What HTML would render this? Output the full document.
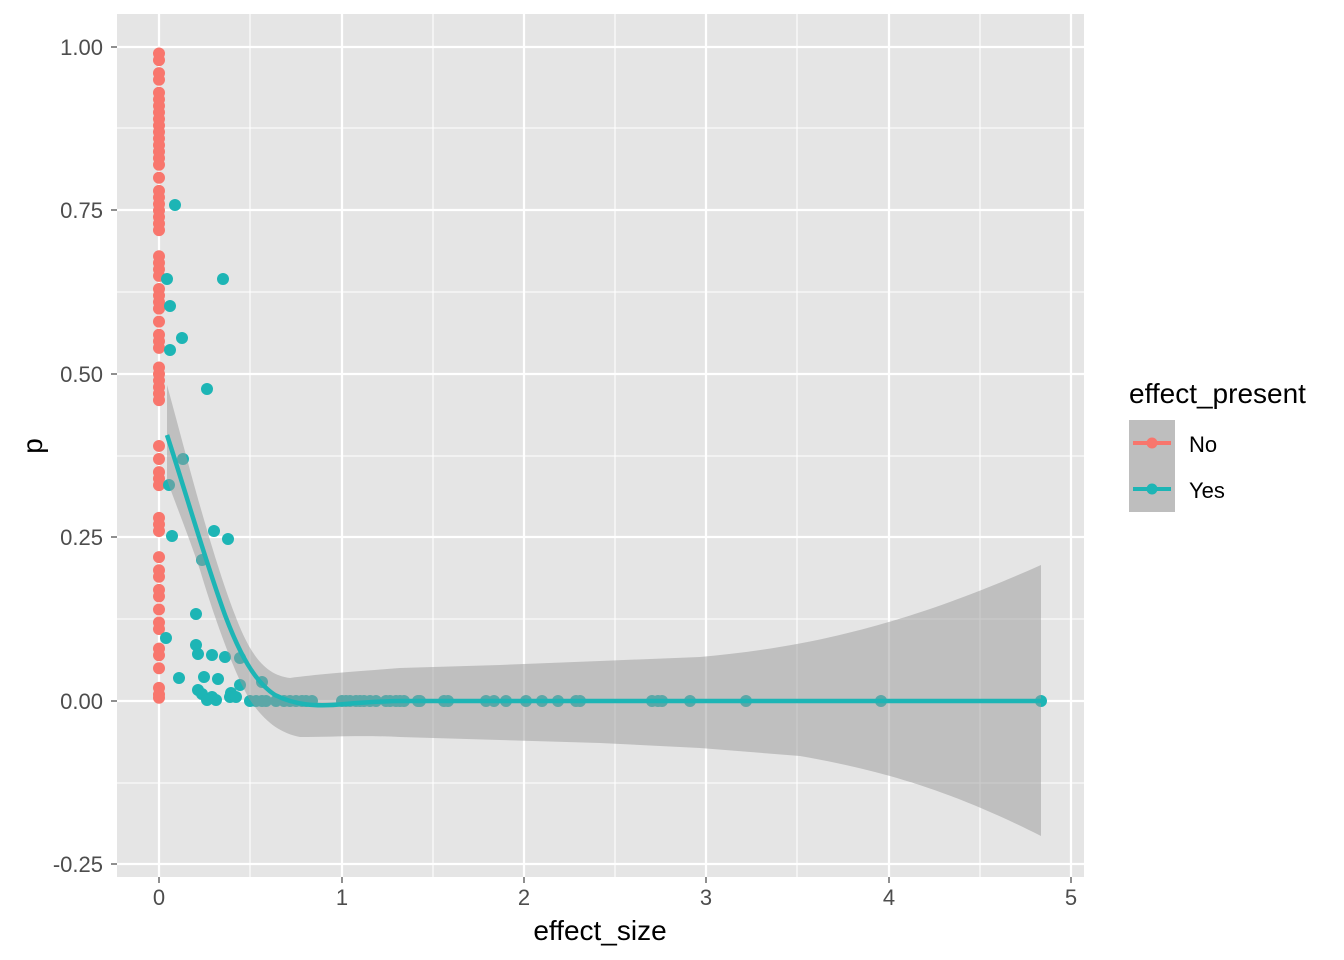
<!DOCTYPE html>
<html><head><style>body{margin:0;background:#fff}svg{display:block}text{font-family:"Liberation Sans",sans-serif}</style></head><body>
<svg width="1344" height="960" viewBox="0 0 1344 960" xmlns="http://www.w3.org/2000/svg">
<rect x="117" y="14" width="967" height="863" fill="#e5e5e5"/>
<g stroke="#fff" stroke-width="1.1">
<line x1="250" y1="14" x2="250" y2="877"/><line x1="433" y1="14" x2="433" y2="877"/><line x1="615" y1="14" x2="615" y2="877"/><line x1="797" y1="14" x2="797" y2="877"/><line x1="980" y1="14" x2="980" y2="877"/>
<line x1="117" y1="128" x2="1084" y2="128"/><line x1="117" y1="292" x2="1084" y2="292"/><line x1="117" y1="456" x2="1084" y2="456"/><line x1="117" y1="619" x2="1084" y2="619"/><line x1="117" y1="783" x2="1084" y2="783"/>
</g>
<g stroke="#fff" stroke-width="2.2">
<line x1="159" y1="14" x2="159" y2="877"/><line x1="342" y1="14" x2="342" y2="877"/><line x1="524" y1="14" x2="524" y2="877"/><line x1="706" y1="14" x2="706" y2="877"/><line x1="889" y1="14" x2="889" y2="877"/><line x1="1071" y1="14" x2="1071" y2="877"/>
<line x1="117" y1="47" x2="1084" y2="47"/><line x1="117" y1="210" x2="1084" y2="210"/><line x1="117" y1="374" x2="1084" y2="374"/><line x1="117" y1="537" x2="1084" y2="537"/><line x1="117" y1="701" x2="1084" y2="701"/><line x1="117" y1="864" x2="1084" y2="864"/>
</g>
<g id="pts"></g>
<path d="M167,385 C185,450 210,550 235,615 C250,655 265,675 290,678 C320,674 350,672 400,668 L500,665 L600,661 L700,657 C800,648 900,628 1041,565 L1041,836 C950,790 880,770 800,756 L700,748 L600,743 L500,740 L400,737 C360,735 330,737 300,737 C280,733 265,722 250,700 C235,675 215,620 200,570 C190,540 178,510 167,480 Z" fill="#999" fill-opacity="0.5"/>
<path d="M167,435 C185,490 205,560 225,615 C240,655 255,682 275,695 C295,705 315,707 345,704 C370,702 385,701 400,701 L1041,701" fill="none" stroke="#1db5b5" stroke-width="4.5"/>
<g fill="#4d4d4d" font-size="22" text-anchor="end">
<text x="103" y="55">1.00</text><text x="103" y="218">0.75</text><text x="103" y="382">0.50</text><text x="103" y="545">0.25</text><text x="103" y="709">0.00</text><text x="103" y="872">-0.25</text>
</g>
<g stroke="#333" stroke-width="1.1">
<line x1="111" y1="47" x2="117" y2="47"/><line x1="111" y1="210" x2="117" y2="210"/><line x1="111" y1="374" x2="117" y2="374"/><line x1="111" y1="537" x2="117" y2="537"/><line x1="111" y1="701" x2="117" y2="701"/><line x1="111" y1="864" x2="117" y2="864"/>
<line x1="159" y1="877" x2="159" y2="883"/><line x1="342" y1="877" x2="342" y2="883"/><line x1="524" y1="877" x2="524" y2="883"/><line x1="706" y1="877" x2="706" y2="883"/><line x1="889" y1="877" x2="889" y2="883"/><line x1="1071" y1="877" x2="1071" y2="883"/>
</g>
<g fill="#4d4d4d" font-size="22" text-anchor="middle">
<text x="159" y="905">0</text><text x="342" y="905">1</text><text x="524" y="905">2</text><text x="706" y="905">3</text><text x="889" y="905">4</text><text x="1071" y="905">5</text>
</g>
<text x="600" y="940" font-size="28" text-anchor="middle" fill="#000">effect_size</text>
<text x="42" y="446" font-size="28" text-anchor="middle" fill="#000" transform="rotate(-90 42 446)">p</text>
<text x="1129" y="403" font-size="28" fill="#000">effect_present</text>
<rect x="1129" y="420" width="46" height="92" fill="#bebebe"/>
<line x1="1133" y1="443" x2="1171" y2="443" stroke="#f8766d" stroke-width="4"/><circle cx="1152" cy="443" r="5.5" fill="#f8766d"/>
<line x1="1133" y1="489" x2="1171" y2="489" stroke="#1db5b5" stroke-width="4"/><circle cx="1152" cy="489" r="5.5" fill="#1db5b5"/>
<text x="1189" y="452" font-size="22" fill="#000">No</text><text x="1189" y="498" font-size="22" fill="#000">Yes</text>
</svg>
<script>
var g=document.getElementById('pts'),s='';
var red=[0.99,0.98,0.96,0.95,0.93,0.92,0.91,0.90,0.89,0.88,0.87,0.86,0.85,0.84,0.83,0.82,0.80,0.78,0.77,0.76,0.75,0.74,0.73,0.72,0.68,0.67,0.66,0.65,0.63,0.62,0.61,0.60,0.58,0.56,0.55,0.54,0.51,0.50,0.49,0.48,0.47,0.46,0.39,0.37,0.35,0.34,0.33,0.28,0.27,0.26,0.22,0.20,0.19,0.17,0.16,0.14,0.12,0.11,0.08,0.07,0.05,0.02,0.01,0.005];
red.forEach(function(p){s+='<circle cx="159" cy="'+(701-654*p)+'" r="6" fill="#f8766d"/>';});
var t=[[175,205],[167,279],[223,279],[170,306],[182,338],[170,350],[207,389],[183,459],[169,485],[172,536],[214,531],[228,539],[202,560],[196,614],[196,645],[198,654],[212,655],[225,657],[240,658],[166,638],[179,678],[204,677],[218,679],[262,682],[231,693],[198,690],[202,694],[230,697],[212,697],[216,700],[236,697],[207,700],[240,685]];
[250,256,262,266,276,284,290,296,302,306,312,342,346,350,356,360,364,370,376,386,390,396,400,404,418,420,444,448,486,494,506,526,542,558,576,580,652,658,662,690,746,881,1041].forEach(function(x){t.push([x,701]);});
t.forEach(function(q){s+='<circle cx="'+q[0]+'" cy="'+q[1]+'" r="6" fill="#1db5b5"/>';});
g.innerHTML=s;
</script>
</body></html>
